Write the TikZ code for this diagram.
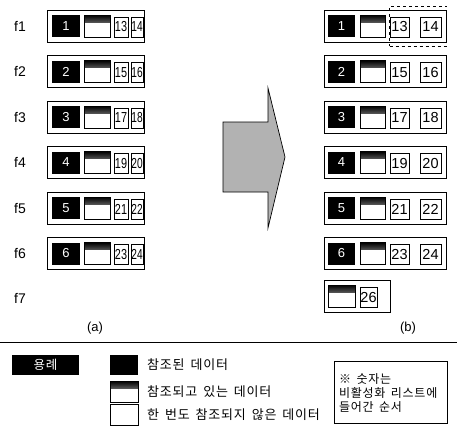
\documentclass[tikz,border=0pt]{standalone}
\usepackage{fontspec}
\setmainfont{Liberation Sans}
\newfontfamily\kr{Noto Sans CJK KR}
\newfontfamily\krw{Noto Sans CJK KR}[LetterSpace=6,WordSpace=1.6]
\begin{document}
\begin{tikzpicture}[x=1pt,y=-1pt,
  rowbox/.style={draw, line width=0.9pt, inner sep=0pt, minimum height=32pt},
  refcell/.style={fill=black, text=white, inner sep=0pt, minimum height=22pt, font=\fontsize{13}{13}\selectfont},
  curcell/.style={draw, line width=0.6pt, fill=white, inner sep=0pt, minimum height=22pt,
    path picture={\shade[top color=black, bottom color=white]
      (path picture bounding box.north west) rectangle ([yshift=-7pt]path picture bounding box.north east);}},
  numcell/.style={draw, line width=0.7pt, fill=white, inner sep=0pt, minimum height=20pt, font=\fontsize{14.5}{14.5}\selectfont},
  flabel/.style={font=\fontsize{14}{14}\selectfont},
  krtext/.style={font=\krw\fontsize{13}{15}\selectfont, anchor=west, inner sep=0pt}
]
\useasboundingbox (0,0) rectangle (457,429);

\foreach \i/\a/\b in {1/13/14, 2/15/16, 3/17/18, 4/19/20, 5/21/22, 6/23/24} {
  \pgfmathsetmacro{\y}{26+45.5*(\i-1)}
  \node[flabel] (f\i) at (20,\y) {f\i};
  % left (a)
  \node[rowbox, minimum width=97pt] (L\i) at (96,\y) {};
  \node[refcell, minimum width=28pt] (La\i) at (66,\y) {\i};
  \node[curcell, minimum width=26pt] (Lb\i) at (97,\y) {};
  \node[numcell, minimum width=14pt] (Lc\i) at (121,\y+1) {\scalebox{0.75}[1]{\a}};
  \node[numcell, minimum width=12pt] (Ld\i) at (137,\y+1) {\scalebox{0.7}[1]{\b}};
  % right (b)
  \node[rowbox, minimum width=122pt] (R\i) at (385,\y) {};
  \node[refcell, minimum width=27pt] (Ra\i) at (341.5,\y) {\i};
  \node[curcell, minimum width=25pt] (Rb\i) at (372.5,\y) {};
  \node[numcell, minimum width=19pt] (Rc\i) at (399.5,\y+1) {\a};
  \node[numcell, minimum width=21pt] (Rd\i) at (430.5,\y+1) {\b};
}
\node[flabel] (f7) at (20,298) {f7};
\node[rowbox, minimum width=66pt] (R7) at (357,296) {};
\node[curcell, minimum width=27pt] (Rb7) at (341.5,296) {};
\node[numcell, minimum width=17pt] (Rc7) at (368.5,297) {26};

% dashed frame around 13/14
\node[draw, dashed, line width=0.6pt, minimum width=57pt, minimum height=40pt, inner sep=0pt] (dash) at (418,26) {};

\node[flabel, font=\fontsize{13}{13}\selectfont] (capa) at (95,328) {(a)};
\node[flabel, font=\fontsize{13}{13}\selectfont] (capb) at (408,328) {(b)};

% big arrow
\filldraw[fill=gray!60, draw=black, line width=0.7pt]
  (223,122) -- (268,122) -- (268,88) -- (285,157) -- (268,228) -- (268,192) -- (223,192) -- cycle;

% divider
\draw[line width=0.9pt] (0,342) -- (457,342);

% legend
\node[fill=black, text=white, minimum width=67pt, minimum height=20pt, inner sep=0pt, font=\krw\fontsize{12.5}{12.5}\selectfont] (leg) at (45.5,365) {용례};
\node[fill=black, minimum width=28pt, minimum height=20pt, inner sep=0pt] (k1) at (124,365) {};
\node[curcell, minimum width=28pt, minimum height=21pt] (k2) at (124,391.5) {};
\node[draw, line width=0.6pt, minimum width=28pt, minimum height=21pt, inner sep=0pt] (k3) at (124,414.5) {};
\node[krtext] (t1) at (147,365) {참조된 데이터};
\node[krtext] (t2) at (147,391.5) {참조되고 있는 데이터};
\node[krtext] (t3) at (147,414.5) {한 번도 참조되지 않은 데이터};

\node[draw, line width=0.8pt, minimum width=113pt, minimum height=62pt, inner sep=0pt] (note) at (391,392) {};
\node[font=\krw\fontsize{12}{14}\selectfont, align=left, anchor=west, inner sep=0pt] (notetext) at (339,393) {※ 숫자는\\비활성화 리스트에\\들어간 순서};
\end{tikzpicture}
\end{document}
